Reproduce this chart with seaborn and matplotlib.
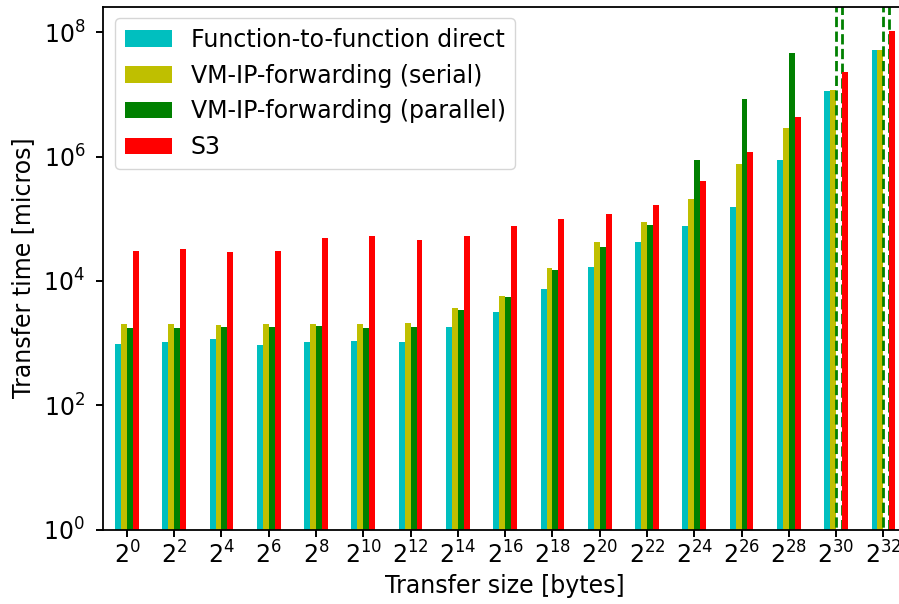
import numpy as np
import pandas as pd
import matplotlib
matplotlib.use("Agg")
import matplotlib.pyplot as plt
import seaborn as sns

# transfer sizes (exponent of 2)
exponents = [0, 2, 4, 6, 8, 10, 12, 14, 16, 18, 20, 22, 24, 26, 28, 30, 32]
size_labels = [rf"$2^{{{e}}}$" for e in exponents]

series_names = ["Function-to-function direct", "VM-IP-forwarding (serial)",
                "VM-IP-forwarding (parallel)", "S3"]
series_colors = ["c", "y", "g", "r"]

# transfer time [micros]
f2f_direct = [960, 1030, 1150, 920, 1030, 1070, 1030, 1800, 3150, 7350, 16600,
              41900, 76000, 155000, 876000, 1.13e7, 5.15e7]
vm_serial = [2000, 2000, 1940, 2000, 2000, 2000, 2090, 3640, 5690, 15900, 41900,
             88500, 207000, 757000, 2.88e6, 1.17e7, 5.15e7]
# None = run failed (drawn as dashed, open bar reaching past the top)
vm_parallel = [1740, 1740, 1790, 1790, 1860, 1740, 1800, 3380, 5480, 14800, 34800,
               79000, 875000, 8.4e6, 4.65e7, None, None]
s3 = [30000, 32400, 29000, 30000, 49000, 52700, 45200, 52500, 76000, 98500, 119000,
      166000, 404000, 1.18e6, 4.35e6, 2.29e7, 1.05e8]
failed_bar_height = 1e10  # off-scale marker for failed runs

rows = []
for name, vals in zip(series_names, [f2f_direct, vm_serial, vm_parallel, s3]):
    for lab, v in zip(size_labels, vals):
        failed = v is None
        rows.append({"size": lab, "method": name,
                     "time": failed_bar_height if failed else v,
                     "failed": failed})
df = pd.DataFrame(rows)

fig = plt.figure(figsize=(8.99, 6.04), dpi=100)
ax = fig.add_axes([0.1149, 0.1233, 0.894, 0.8659])

sns.barplot(data=df, x="size", y="time", hue="method", order=size_labels,
            hue_order=series_names, palette=series_colors, width=0.5,
            errorbar=None, saturation=1, ax=ax, legend=True)

# style failed runs
for ci, name in enumerate(series_names):
    cont = ax.containers[ci]
    sub = df[df["method"] == name].set_index("size").loc[size_labels]
    for patch, failed in zip(cont.patches, sub["failed"]):
        if failed:
            patch.set_facecolor("white")
            patch.set_edgecolor("g")
            patch.set_linestyle("--")
            patch.set_linewidth(2.0)

ax.set_yscale("log")
ax.set_ylim(1, 2.6e8)
ax.set_xlim(-0.5, len(size_labels) - 0.5)
ax.set_yticks([1e0, 1e2, 1e4, 1e6, 1e8])
ax.yaxis.set_minor_locator(matplotlib.ticker.NullLocator())
ax.tick_params(axis="both", labelsize=17, length=5, width=1.4)
ax.tick_params(axis="y", pad=8)
ax.set_xlabel("Transfer size [bytes]", fontsize=17)
ax.set_ylabel("Transfer time [micros]", fontsize=17, labelpad=6)
for s in ax.spines.values():
    s.set_linewidth(1.3)

handles, labels = ax.get_legend_handles_labels()
ax.legend(handles, labels, loc="upper left", fontsize=17, frameon=True,
          bbox_to_anchor=(0.0, 1.0), borderaxespad=0.5)

fig.savefig("out.png", dpi=100)
